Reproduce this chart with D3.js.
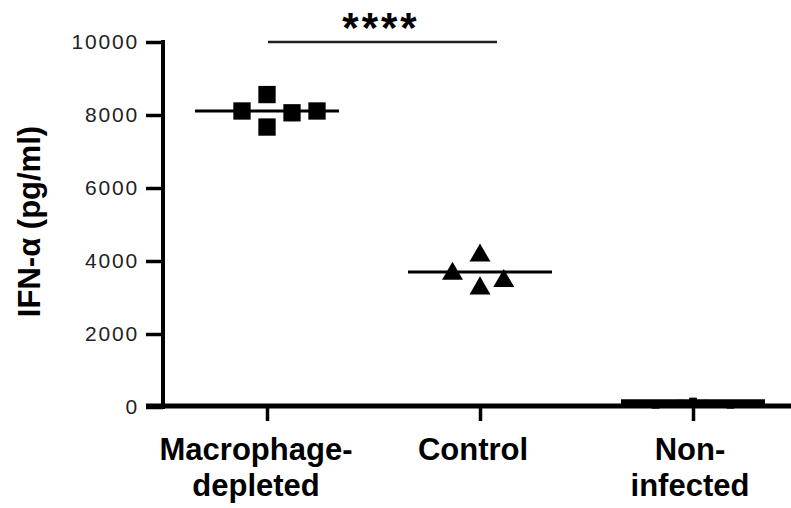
<!DOCTYPE html>
<html>
<head>
<meta charset="utf-8">
<script src="https://cdn.jsdelivr.net/npm/d3@7"></script>
<style>
  body { margin: 0; background: #fff; }
  text { font-family: "Liberation Sans", Arial, sans-serif; }
</style>
</head>
<body>
<div id="chart"></div>
<script>
// data
const groups = ["Macrophage-depleted", "Control", "Non-infected"]
const groupLabels = [["Macrophage-", "depleted"], ["Control"], ["Non-", "infected"]]
const macrophageX = [-1.0, 0, 0, 1.0, 2.0]          // horizontal jitter slot
const macrophageVals = [8110, 8560, 7670, 8060, 8110]
const controlX = [-1.1, 0, 0, 0.95]
const controlVals = [3650, 4150, 3250, 3450]
const noninfX = [-1.5, -0.5, 0, 0.5, 1.5]
const noninfVals = [60, 90, 150, 90, 60]
const medians = [8110, 3700, 130]
const yTicks = [0, 2000, 4000, 6000, 8000, 10000]

const width = 791
const height = 508

const svg = d3.select("div#chart").append("svg").attr("width", width).attr("height", height)

const x = d3.scalePoint().domain(groups).range([267, 693])
const y = d3.scaleLinear().domain([0, 10000]).range([407, 42])
const jitter = 25
const labelShift = [-11, -7, -3]   // labels sit a bit left of their ticks in the original

// y axis
const yAxisGroup = svg.append("g").attr("transform", "translate(163,0)")
yAxisGroup.call(d3.axisLeft(y).tickValues(yTicks).tickSize(17).tickPadding(7).tickFormat(d3.format("d")))
yAxisGroup.select(".domain").remove()
yAxisGroup.selectAll(".tick line").attr("stroke", "#000").attr("stroke-width", 3.5)
yAxisGroup.selectAll(".tick text")
    .style("font-size", "21px")
    .style("letter-spacing", "1.8px")
    .attr("fill", "#222")
yAxisGroup.append("line").attr("x1", 0).attr("x2", 0).attr("y1", y(10000) - 2).attr("y2", y(0) + 2)
    .attr("stroke", "#000").attr("stroke-width", 4)

// x axis
const xAxisGroup = svg.append("g").attr("transform", "translate(0,406)")
xAxisGroup.call(d3.axisBottom(x).tickSize(15).tickFormat(""))
xAxisGroup.select(".domain").remove()
xAxisGroup.selectAll(".tick line").attr("stroke", "#000").attr("stroke-width", 3.5)
xAxisGroup.append("line").attr("x1", 146).attr("x2", width).attr("y1", 0).attr("y2", 0)
    .attr("stroke", "#000").attr("stroke-width", 5)

// group labels
groupLabels.forEach((lines, i) => {
    const cx = x(groups[i]) + labelShift[i]
    const t = svg.append("text")
        .attr("x", cx)
        .attr("y", 460)
        .attr("text-anchor", "middle")
        .style("font-size", "31px")
        .style("font-weight", "bold")
    lines.forEach((l, j) => t.append("tspan").attr("x", cx).attr("dy", j === 0 ? 0 : 36).text(l))
})

// y label
svg.append("text")
    .attr("transform", `translate(40,${y(5000) - 3}) rotate(-90)`)
    .attr("text-anchor", "middle")
    .style("font-size", "31px")
    .style("font-weight", "bold")
    .text("IFN-α (pg/ml)")

// medians
const medianG = svg.append("g")
medianG.selectAll("line").data(medians).enter().append("line")
    .attr("x1", (d, i) => x(groups[i]) - 72)
    .attr("x2", (d, i) => x(groups[i]) + 72)
    .attr("y1", d => y(d))
    .attr("y2", d => y(d))
    .attr("stroke", "#000")
    .attr("stroke-width", (d, i) => i === 2 ? 6 : 3)

// points
const sq = d3.symbol().type(d3.symbolSquare).size(300)
const tri = d3.symbol().type(d3.symbolTriangle).size(190)
const small = d3.symbol().type(d3.symbolSquare).size(60)

svg.append("g").selectAll("path").data(macrophageVals).enter().append("path")
    .attr("d", sq)
    .attr("transform", (d, i) => `translate(${x(groups[0]) + macrophageX[i] * jitter},${y(d)})`)
    .attr("fill", "#000")

svg.append("g").selectAll("path").data(controlVals).enter().append("path")
    .attr("d", tri)
    .attr("transform", (d, i) => `translate(${x(groups[1]) + controlX[i] * jitter},${y(d)})`)
    .attr("fill", "#000")

svg.append("g").selectAll("path").data(noninfVals).enter().append("path")
    .attr("d", small)
    .attr("transform", (d, i) => `translate(${x(groups[2]) + noninfX[i] * jitter},${y(d)})`)
    .attr("fill", "#000")

// significance bar
svg.append("line")
    .attr("x1", 268).attr("x2", 497).attr("y1", 42).attr("y2", 42)
    .attr("stroke", "#222").attr("stroke-width", 2.5)
svg.append("text")
    .attr("x", 381).attr("y", 42)
    .attr("text-anchor", "middle")
    .style("font-size", "42px")
    .style("font-weight", "bold")
    .style("letter-spacing", "3px")
    .text("****")
</script>
</body>
</html>
